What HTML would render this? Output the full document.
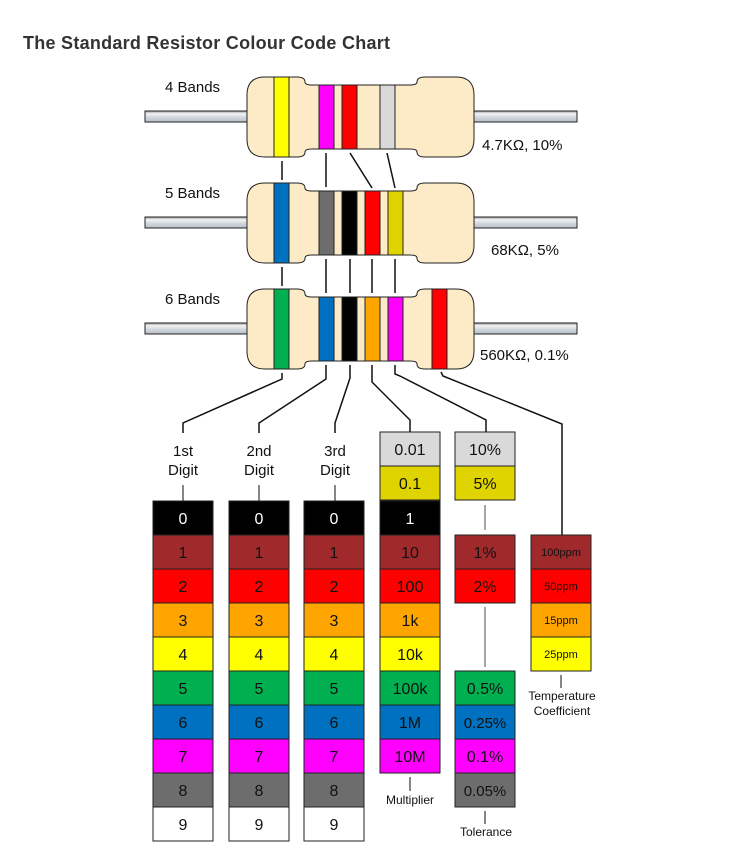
<!DOCTYPE html>
<html><head><meta charset="utf-8"><style>
html,body{margin:0;padding:0;background:#fff;}
svg{display:block;}
text{font-family:"Liberation Sans",Arial,sans-serif;}
</style></head><body>
<svg width="744" height="859" viewBox="0 0 744 859" xmlns="http://www.w3.org/2000/svg">
<defs>
<linearGradient id="lead" x1="0" y1="0" x2="0" y2="1">
<stop offset="0" stop-color="#9a9a9a"/><stop offset="0.25" stop-color="#f2f2f2"/><stop offset="0.6" stop-color="#d0d6de"/><stop offset="1" stop-color="#b8bec6"/>
</linearGradient>
<path id="body" d="M265 0 H297 Q305 0 305 5 Q305 8 312 8 H410 Q417 8 417 5 Q417 0 425 0 H456 Q474 0 474 18 V62 Q474 80 456 80 H425 Q417 80 417 75 Q417 72 410 72 H312 Q305 72 305 75 Q305 80 297 80 H265 Q247 80 247 62 V18 Q247 0 265 0 Z" fill="#fdebc8" stroke="#222" stroke-width="1"/>
</defs>
<text x="23" y="49" font-size="18" font-weight="bold" fill="#333" textLength="367">The Standard Resistor Colour Code Chart</text>

<!-- Resistor 1 -->
<g stroke="#222" stroke-width="1">
<rect x="145" y="111" width="104" height="11" fill="url(#lead)"/>
<rect x="472" y="111" width="105" height="11" fill="url(#lead)"/>
<rect x="145" y="217" width="104" height="11" fill="url(#lead)"/>
<rect x="472" y="217" width="105" height="11" fill="url(#lead)"/>
<rect x="145" y="323" width="104" height="11" fill="url(#lead)"/>
<rect x="472" y="323" width="105" height="11" fill="url(#lead)"/>
</g>
<use href="#body" y="77"/>
<use href="#body" y="183"/>
<use href="#body" y="289"/>
<g stroke="#222" stroke-width="1">
<rect x="274" y="77" width="15" height="80" fill="#ffff00"/>
<rect x="319" y="85" width="15" height="64" fill="#ff00ff"/>
<rect x="342" y="85" width="15" height="64" fill="#ff0000"/>
<rect x="380" y="85" width="15" height="64" fill="#d9d9d9"/>

<rect x="274" y="183" width="15" height="80" fill="#0070c0"/>
<rect x="319" y="191" width="15" height="64" fill="#6d6d6d"/>
<rect x="342" y="191" width="15" height="64" fill="#000"/>
<rect x="365" y="191" width="15" height="64" fill="#ff0000"/>
<rect x="388" y="191" width="15" height="64" fill="#e0d400"/>

<rect x="274" y="289" width="15" height="80" fill="#00b050"/>
<rect x="319" y="297" width="15" height="64" fill="#0070c0"/>
<rect x="342" y="297" width="15" height="64" fill="#000"/>
<rect x="365" y="297" width="15" height="64" fill="#ffa500"/>
<rect x="388" y="297" width="15" height="64" fill="#ff00ff"/>
<rect x="432" y="289" width="15" height="80" fill="#ff0000"/>
</g>
<g font-size="15" fill="#111">
<text x="165" y="92">4 Bands</text>
<text x="165" y="198">5 Bands</text>
<text x="165" y="304">6 Bands</text>
<text x="482" y="150">4.7KΩ, 10%</text>
<text x="491" y="255">68KΩ, 5%</text>
<text x="480" y="360">560KΩ, 0.1%</text>
</g>

<!-- connectors -->
<g stroke="#111" stroke-width="1.5" fill="none">
<line x1="282" y1="161" x2="282" y2="180"/>
<line x1="326" y1="153" x2="326" y2="187"/>
<line x1="350" y1="153" x2="372" y2="188"/>
<line x1="387" y1="153" x2="395" y2="188"/>
<line x1="282" y1="267" x2="282" y2="286"/>
<line x1="326" y1="259" x2="326" y2="293"/>
<line x1="350" y1="259" x2="350" y2="293"/>
<line x1="372" y1="259" x2="372" y2="293"/>
<line x1="395" y1="259" x2="395" y2="293"/>
<polyline points="282,373 282,379 183,423 183,433"/>
<polyline points="326,365 326,379 259,423 259,433"/>
<polyline points="350,365 350,378 335,423 335,433"/>
<polyline points="372,365 372,382 410,420 410,432"/>
<polyline points="395,365 395,374 400,376 486,420 486,432"/>
<polyline points="441,372 443,376 562,424 562,535"/>
</g>
<g font-size="15" fill="#111" text-anchor="middle">
<text x="183" y="456">1st</text><text x="183" y="475">Digit</text>
<text x="259" y="456">2nd</text><text x="259" y="475">Digit</text>
<text x="335" y="456">3rd</text><text x="335" y="475">Digit</text>
</g>
<g stroke="#444" stroke-width="1.3">
<line x1="183" y1="485" x2="183" y2="501"/>
<line x1="259" y1="485" x2="259" y2="501"/>
<line x1="335" y1="485" x2="335" y2="501"/>
<line x1="485" y1="505" x2="485" y2="530" stroke="#777"/>
<line x1="485" y1="607" x2="485" y2="667" stroke="#777"/>
<line x1="410" y1="777" x2="410" y2="791"/>
<line x1="485" y1="811" x2="485" y2="824"/>
<line x1="561" y1="675" x2="561" y2="688"/>
</g>

<!-- digit columns -->
<g stroke="#222" stroke-width="1">
<g id="dcol">
<rect x="153" y="501" width="60" height="34" fill="#000"/>
<rect x="153" y="535" width="60" height="34" fill="#a0292b"/>
<rect x="153" y="569" width="60" height="34" fill="#ff0000"/>
<rect x="153" y="603" width="60" height="34" fill="#ffa500"/>
<rect x="153" y="637" width="60" height="34" fill="#ffff00"/>
<rect x="153" y="671" width="60" height="34" fill="#00b050"/>
<rect x="153" y="705" width="60" height="34" fill="#0070c0"/>
<rect x="153" y="739" width="60" height="34" fill="#ff00ff"/>
<rect x="153" y="773" width="60" height="34" fill="#6d6d6d"/>
<rect x="153" y="807" width="60" height="34" fill="#fff"/>
</g>
<use href="#dcol" x="76"/>
<use href="#dcol" x="151"/>
<!-- multiplier -->
<rect x="380" y="432" width="60" height="34" fill="#d9d9d9"/>
<rect x="380" y="466" width="60" height="34" fill="#e0d400"/>
<rect x="380" y="501" width="60" height="34" fill="#000"/>
<rect x="380" y="535" width="60" height="34" fill="#a0292b"/>
<rect x="380" y="569" width="60" height="34" fill="#ff0000"/>
<rect x="380" y="603" width="60" height="34" fill="#ffa500"/>
<rect x="380" y="637" width="60" height="34" fill="#ffff00"/>
<rect x="380" y="671" width="60" height="34" fill="#00b050"/>
<rect x="380" y="705" width="60" height="34" fill="#0070c0"/>
<rect x="380" y="739" width="60" height="34" fill="#ff00ff"/>
<!-- tolerance -->
<rect x="455" y="432" width="60" height="34" fill="#d9d9d9"/>
<rect x="455" y="466" width="60" height="34" fill="#e0d400"/>
<rect x="455" y="535" width="60" height="34" fill="#a0292b"/>
<rect x="455" y="569" width="60" height="34" fill="#ff0000"/>
<rect x="455" y="671" width="60" height="34" fill="#00b050"/>
<rect x="455" y="705" width="60" height="34" fill="#0070c0"/>
<rect x="455" y="739" width="60" height="34" fill="#ff00ff"/>
<rect x="455" y="773" width="60" height="34" fill="#6d6d6d"/>
<!-- temp -->
<rect x="531" y="535" width="60" height="34" fill="#a0292b"/>
<rect x="531" y="569" width="60" height="34" fill="#ff0000"/>
<rect x="531" y="603" width="60" height="34" fill="#ffa500"/>
<rect x="531" y="637" width="60" height="34" fill="#ffff00"/>
</g>

<g font-size="16" fill="#111" text-anchor="middle">
<g id="dtxt">
<text x="183" y="524" fill="#fff">0</text>
<text x="183" y="558">1</text>
<text x="183" y="592">2</text>
<text x="183" y="626">3</text>
<text x="183" y="660">4</text>
<text x="183" y="694">5</text>
<text x="183" y="728">6</text>
<text x="183" y="762">7</text>
<text x="183" y="796">8</text>
<text x="183" y="830">9</text>
</g>
<use href="#dtxt" x="76"/>
<use href="#dtxt" x="151"/>
<text x="410" y="455">0.01</text>
<text x="410" y="489">0.1</text>
<text x="410" y="524" fill="#fff">1</text>
<text x="410" y="558">10</text>
<text x="410" y="592">100</text>
<text x="410" y="626">1k</text>
<text x="410" y="660">10k</text>
<text x="410" y="694">100k</text>
<text x="410" y="728">1M</text>
<text x="410" y="762">10M</text>
<text x="485" y="455">10%</text>
<text x="485" y="489">5%</text>
<text x="485" y="558">1%</text>
<text x="485" y="592">2%</text>
<text x="485" y="694">0.5%</text>
<text x="485" y="728" font-size="15">0.25%</text>
<text x="485" y="762">0.1%</text>
<text x="485" y="796" font-size="15">0.05%</text>
</g>
<g font-size="11" fill="#111" text-anchor="middle">
<text x="561" y="556">100ppm</text>
<text x="561" y="590">50ppm</text>
<text x="561" y="624">15ppm</text>
<text x="561" y="658">25ppm</text>
</g>
<g font-size="12" fill="#111" text-anchor="middle">
<text x="410" y="804">Multiplier</text>
<text x="486" y="836">Tolerance</text>
<text x="562" y="700">Temperature</text>
<text x="562" y="715">Coefficient</text>
</g>
</svg>
</body></html>
